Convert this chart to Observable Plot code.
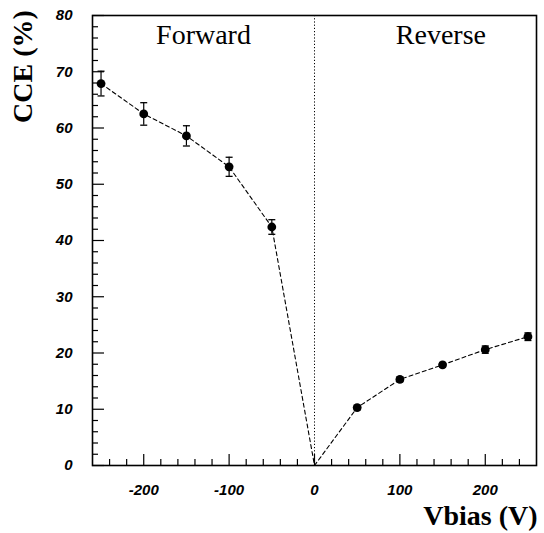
<!DOCTYPE html>
<html><head><meta charset="utf-8">
<script src="https://cdn.jsdelivr.net/npm/d3@7"></script>
<script src="https://cdn.jsdelivr.net/npm/@observablehq/plot@0.6"></script>
<style>body{margin:0;background:#fff}</style>
</head><body><div id="chart"></div>
<script>
// Forward bias points
const fwdV = [-250, -200, -150, -100, -50];
const fwdCCE = [67.9, 62.5, 58.6, 53.1, 42.4];
const fwdErr = [2.2, 2.0, 1.8, 1.7, 1.3];
// Reverse bias points
const revV = [50, 100, 150, 200, 250];
const revCCE = [10.3, 15.3, 17.9, 20.6, 22.9];
const revErr = [0.4, 0.4, 0.4, 0.65, 0.68];
// origin the dashed curve passes through
const originV = [0];
const originCCE = [0];
// ticks
const xMajor = [-200, -100, 0, 100, 200];
const xMinor = [-240, -220, -180, -160, -140, -120, -80, -60, -40, -20, 20, 40, 60, 80, 120, 140, 160, 180, 220, 240];
const yMajor = [0, 10, 20, 30, 40, 50, 60, 70, 80];
const yMinor = [2,4,6,8,12,14,16,18,22,24,26,28,32,34,36,38,42,44,46,48,52,54,56,58,62,64,66,68,72,74,76,78];
const regionLabels = ["Forward", "Reverse"];
const regionX = [-130, 148];
const regionY = [76.6, 76.6];

const pts = fwdV.map((v, i) => ({v, c: fwdCCE[i], e: fwdErr[i]}))
  .concat(revV.map((v, i) => ({v, c: revCCE[i], e: revErr[i]})));
const lineData = fwdV.map((v, i) => ({v, c: fwdCCE[i]}))
  .concat(originV.map((v, i) => ({v, c: originCCE[i]})))
  .concat(revV.map((v, i) => ({v, c: revCCE[i]})));
const regions = regionLabels.map((t, i) => ({t, x: regionX[i], y: regionY[i]}));

const W = 544, H = 533, mL = 92, mR = 8, mT = 15, mB = 68;
const pw = W - mL - mR, ph = H - mT - mB;
const capSymbol = {draw(ctx) { ctx.moveTo(-3.5, 0); ctx.lineTo(3.5, 0); }};
const tickFont = {fontFamily: "Liberation Sans, Arial, sans-serif", fontWeight: "bold", fontStyle: "italic", fontSize: 15, fill: "black"};
const serifBold = {fontFamily: "Liberation Serif, Times New Roman, serif", fontWeight: "bold", fontSize: 28, fill: "black"};

const chart = Plot.plot({
  width: W, height: H,
  marginLeft: mL, marginRight: mR, marginTop: mT, marginBottom: mB,
  x: {domain: [-260, 260], axis: null},
  y: {domain: [0, 80], axis: null},
  style: {background: "white"},
  marks: [
    Plot.ruleX(originV, {x: d => d, stroke: "black", strokeWidth: 1, strokeDasharray: "1.2,2"}),
    Plot.tickX(xMinor, {x: d => d, insetTop: ph - 6, stroke: "black", strokeWidth: 1.2}),
    Plot.tickX(xMajor, {x: d => d, insetTop: ph - 11, stroke: "black", strokeWidth: 1.2}),
    Plot.tickY(yMinor, {y: d => d, insetRight: pw - 6, stroke: "black", strokeWidth: 1.2}),
    Plot.tickY(yMajor, {y: d => d, insetRight: pw - 12, stroke: "black", strokeWidth: 1.2}),
    Plot.frame({stroke: "black", strokeWidth: 1.6}),
    Plot.line(lineData, {x: "v", y: "c", stroke: "black", strokeWidth: 1.1, strokeDasharray: "4,3"}),
    Plot.ruleX(pts, {x: "v", y1: d => d.c - d.e, y2: d => d.c + d.e, stroke: "black", strokeWidth: 1.2}),
    Plot.dot(pts, {x: "v", y: d => d.c + d.e, symbol: capSymbol, fill: "none", stroke: "black", strokeWidth: 1.3}),
    Plot.dot(pts, {x: "v", y: d => d.c - d.e, symbol: capSymbol, fill: "none", stroke: "black", strokeWidth: 1.3}),
    Plot.dot(pts, {x: "v", y: "c", r: 4.4, fill: "black", stroke: "none"}),
    Plot.text(xMajor, {x: d => d, frameAnchor: "bottom", lineAnchor: "middle", dy: 25, text: d => String(d), ...tickFont}),
    Plot.text(yMajor, {y: d => d, frameAnchor: "left", lineAnchor: "middle", dx: -20, textAnchor: "end", text: d => String(d), ...tickFont}),
    Plot.text(regions, {x: "x", y: "y", text: "t", fontFamily: "Liberation Serif, Times New Roman, serif", fontSize: 28, fill: "black"}),
    Plot.text(["CCE (%)"], {frameAnchor: "top-left", textAnchor: "middle", lineAnchor: "middle", dx: 23 - mL, dy: 66 - mT, rotate: -90, text: d => d, ...serifBold}),
    Plot.text(["Vbias (V)"], {frameAnchor: "bottom-right", textAnchor: "end", lineAnchor: "middle", dx: 1, dy: 51, text: d => d, ...serifBold})
  ]
});
document.getElementById("chart").appendChild(chart);
</script>
</body></html>
